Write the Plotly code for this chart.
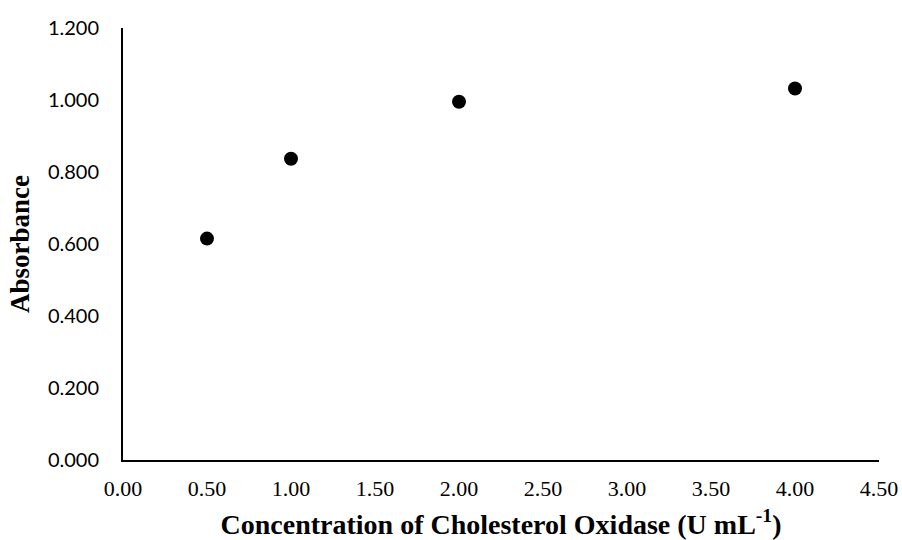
import plotly.graph_objects as go

concentration = [0.5, 1.0, 2.0, 4.0]
absorbance = [0.615, 0.837, 0.995, 1.032]

x_ticks = [0, 0.5, 1.0, 1.5, 2.0, 2.5, 3.0, 3.5, 4.0, 4.5]
x_tick_labels = ["0.00", "0.50", "1.00", "1.50", "2.00", "2.50", "3.00", "3.50", "4.00", "4.50"]
y_ticks = [0, 0.2, 0.4, 0.6, 0.8, 1.0, 1.2]
y_tick_labels = ["0.000", "0.200", "0.400", "0.600", "0.800", "1.000", "1.200"]

fig = go.Figure()
fig.add_trace(go.Scatter(
    x=concentration, y=absorbance, mode="markers",
    marker=dict(color="black", size=14),
    showlegend=False,
))

fig.update_layout(
    width=902, height=540,
    margin=dict(l=123, r=23, t=28, b=80),
    paper_bgcolor="white", plot_bgcolor="white",
    xaxis=dict(
        range=[0, 4.5], tickvals=x_ticks, ticktext=x_tick_labels,
        showgrid=False, zeroline=False, showline=True, linecolor="black", linewidth=2,
        ticks="", tickfont=dict(family="Liberation Serif", size=22, color="black"),
        ticklabelstandoff=8, automargin=False,
        title=dict(text="<b>Concentration of Cholesterol Oxidase (U mL<sup>-1</sup>)</b>",
                   font=dict(family="Liberation Serif", size=28, color="black"), standoff=14),
    ),
    yaxis=dict(
        range=[0, 1.2], tickvals=y_ticks, ticktext=y_tick_labels,
        showgrid=False, zeroline=False, showline=True, linecolor="black", linewidth=2,
        ticks="", tickfont=dict(family="Lato", size=20, color="black"),
        ticklabelstandoff=18, automargin=False,
        title=dict(text="<b>Absorbance</b>",
                   font=dict(family="Liberation Serif", size=27, color="black"), standoff=10),
    ),
)

fig.write_html("out.html", config={"displayModeBar": False},
               post_script="document.body.style.margin='0';")
